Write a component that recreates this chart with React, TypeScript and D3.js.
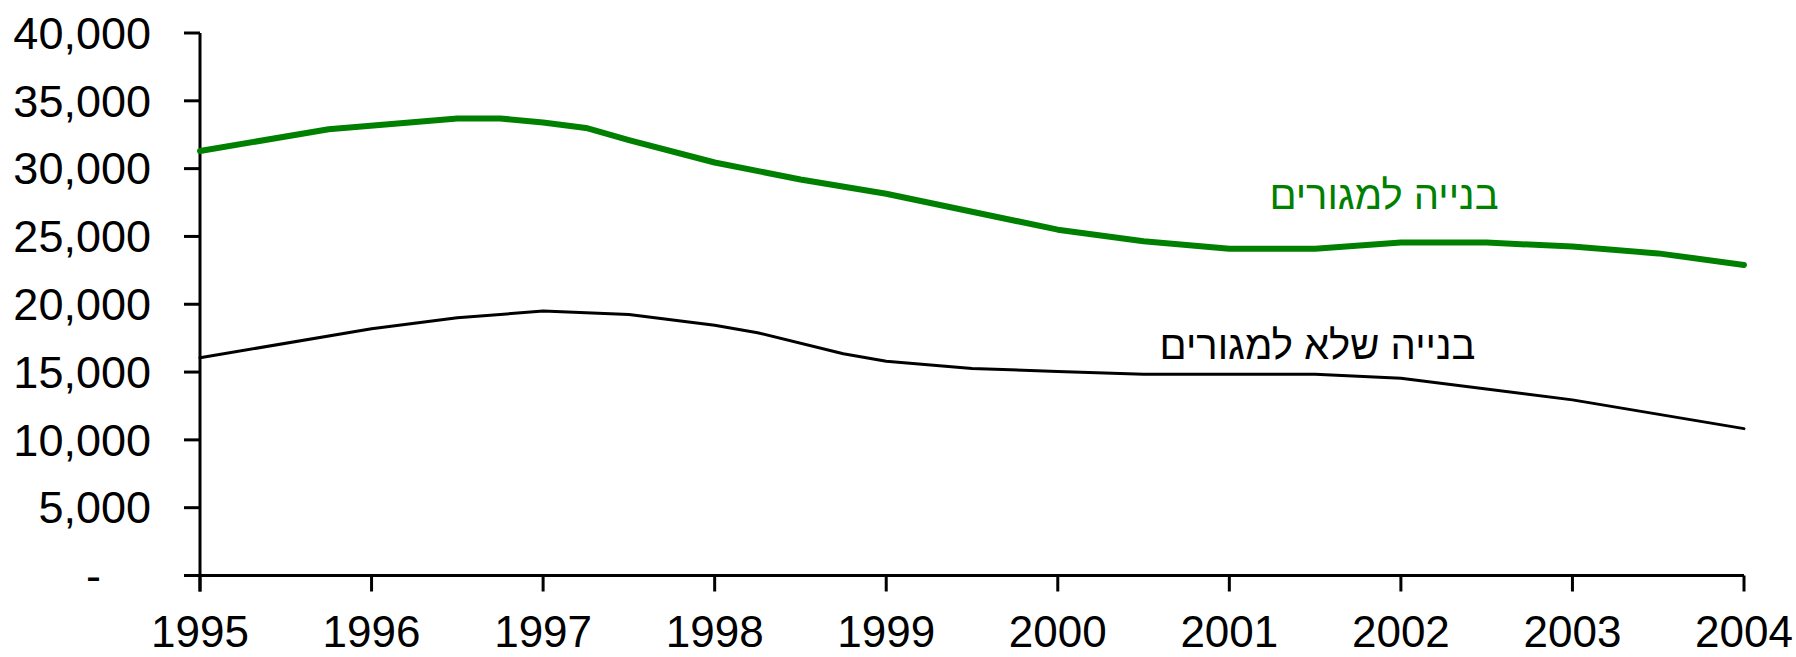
import React from "react";
import * as d3 from "d3";

const W = 1796;
const H = 657;

// Years shown on the x axis
const yearTicks = [1995, 1996, 1997, 1998, 1999, 2000, 2001, 2002, 2003, 2004];
// Y axis ticks
const yTicks = [0, 5000, 10000, 15000, 20000, 25000, 30000, 35000, 40000];

// Residential construction (green) — time (fractional year) and value
const resTime = [1995.0, 1995.75, 1996.5, 1996.75, 1997.0, 1997.25, 1997.5, 1998.0, 1998.5, 1999.0, 2000.0, 2000.5, 2001.0, 2001.5, 2002.0, 2002.5, 2003.0, 2003.5, 2004.0];
const resValue = [31300, 32900, 33700, 33700, 33400, 33000, 32100, 30450, 29200, 28150, 25500, 24650, 24100, 24100, 24550, 24550, 24250, 23750, 22900];

// Non-residential construction (black)
const nonResTime = [1995.0, 1996.0, 1996.5, 1997.0, 1997.5, 1998.0, 1998.25, 1998.75, 1999.0, 1999.5, 2000.0, 2000.5, 2001.5, 2002.0, 2003.0, 2004.0];
const nonResValue = [16050, 18200, 19000, 19500, 19250, 18450, 17900, 16350, 15800, 15270, 15050, 14830, 14830, 14550, 12950, 10830];

const resLabel = "בנייה למגורים";
const nonResLabel = "בנייה שלא למגורים";

const FONT = "'Liberation Sans', Arial, 'DejaVu Sans', sans-serif";

export default function App() {
  const x = d3.scaleLinear().domain([1995, 2004]).range([200, 1744]);
  const y = d3.scaleLinear().domain([0, 40000]).range([575.5, 33]);
  const fmt = d3.format(",");

  const line = d3
    .line<[number, number]>()
    .x((d) => x(d[0]))
    .y((d) => y(d[1]));

  const resPts: [number, number][] = resTime.map((t, i) => [t, resValue[i]]);
  const nonResPts: [number, number][] = nonResTime.map((t, i) => [t, nonResValue[i]]);

  const x0 = x(1995);
  const yBase = y(0);

  return (
    <>
      <style>{`body{margin:0}`}</style>
      <svg width={W} height={H} style={{ display: "block", background: "#fff" }} fontFamily={FONT}>
        {/* y ticks and labels */}
        {yTicks.map((t) => (
          <g key={t}>
            <line x1={x0 - 16} x2={x0} y1={y(t)} y2={y(t)} stroke="#000" strokeWidth={3} />
            <text
              x={t === 0 ? 101 : 151}
              y={y(t)}
              dy="0.35em"
              textAnchor="end"
              fontSize={45}
              fill="#000"
            >
              {t === 0 ? "-" : fmt(t)}
            </text>
          </g>
        ))}
        {/* x ticks and labels */}
        {yearTicks.map((yr) => (
          <g key={yr}>
            <line x1={x(yr)} x2={x(yr)} y1={yBase} y2={yBase + 16} stroke="#000" strokeWidth={3} />
            <text x={x(yr)} y={647} textAnchor="middle" fontSize={44} fill="#000">
              {yr}
            </text>
          </g>
        ))}
        {/* axes */}
        <line x1={x0} x2={x0} y1={y(40000)} y2={yBase + 16} stroke="#000" strokeWidth={3} />
        <line x1={x0 - 16} x2={x(2004)} y1={yBase} y2={yBase} stroke="#000" strokeWidth={3} />

        {/* series */}
        <path d={line(nonResPts) || ""} fill="none" stroke="#000" strokeWidth={3} strokeLinejoin="round" strokeLinecap="round" />
        <path d={line(resPts) || ""} fill="none" stroke="#008000" strokeWidth={6} strokeLinejoin="round" strokeLinecap="round" />

        {/* labels */}
        <text x={1384} y={209} textAnchor="middle" fontSize={40} fill="#008000" direction="rtl">
          {resLabel}
        </text>
        <text x={1317.5} y={359} textAnchor="middle" fontSize={40} fill="#000" direction="rtl">
          {nonResLabel}
        </text>
      </svg>
    </>
  );
}
